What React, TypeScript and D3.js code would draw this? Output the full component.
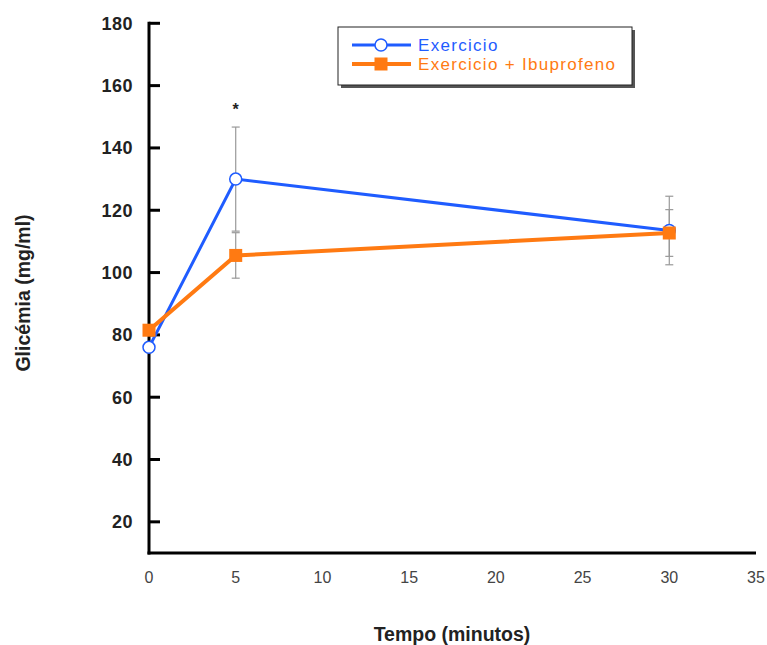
import React from 'react';
import * as d3 from 'd3';

const times = [0, 5, 30];
const exercicio = [76, 130, 113.5];
const exercicioErr = [0, 16.7, 11];
const ibuprofeno = [81.5, 105.5, 112.7];
const ibuprofenoErr = [0, 7.3, 7.5];
const xTicks = [0, 5, 10, 15, 20, 25, 30, 35];
const yTicks = [20, 40, 60, 80, 100, 120, 140, 160, 180];

const W = 767;
const H = 645;
const BLUE = '#1f5cff';
const ORANGE = '#ff7a12';
const FONT = 'Liberation Sans, Arial, sans-serif';

export default function App() {
  const x = d3.scaleLinear().domain([0, 35]).range([149, 756]);
  const y = d3.scaleLinear().domain([10, 180]).range([553, 23.3]);

  const line = d3.line<number>()
    .x((_, i) => x(times[i]))
    .y(d => y(d));

  const errorBars = (vals: number[], errs: number[], key: string) =>
    vals.map((v, i) => {
      if (!errs[i]) return null;
      const cx = x(times[i]);
      const y1 = y(v + errs[i]);
      const y2 = y(v - errs[i]);
      return (
        <g key={key + i} stroke="#999" strokeWidth={1.2}>
          <line x1={cx} x2={cx} y1={y1} y2={y2} />
          <line x1={cx - 4} x2={cx + 4} y1={y1} y2={y1} />
          <line x1={cx - 4} x2={cx + 4} y1={y2} y2={y2} />
        </g>
      );
    });

  return (
    <svg width={W} height={H} style={{ position: 'absolute', left: 0, top: 0, background: '#fff' }}>
      {/* error bars */}
      {errorBars(exercicio, exercicioErr, 'e')}
      {errorBars(ibuprofeno, ibuprofenoErr, 'i')}

      {/* axes */}
      <line x1={x(0)} x2={x(0)} y1={y(180) - 1.5} y2={y(10) + 1.5} stroke="#000" strokeWidth={3} />
      <line x1={x(0) - 1.5} x2={x(35)} y1={y(10)} y2={y(10)} stroke="#000" strokeWidth={3} />
      {yTicks.map(t => (
        <g key={t}>
          <line x1={x(0)} x2={x(0) + 11} y1={y(t)} y2={y(t)} stroke="#000" strokeWidth={3} />
          <text x={x(0) - 16} y={y(t)} dy="0.35em" textAnchor="end" fontFamily={FONT}
            fontWeight="bold" fontSize={18} letterSpacing={0.5} fill="#222">{t}</text>
        </g>
      ))}
      {xTicks.map(t => (
        <text key={t} x={x(t)} y={577.5} dy="0.35em" textAnchor="middle" fontFamily={FONT}
          fontSize={16} fill="#444">{t}</text>
      ))}

      {/* axis titles */}
      <text x={452} y={641} textAnchor="middle" fontFamily={FONT}
        fontWeight="bold" fontSize={19.5} fill="#222">Tempo (minutos)</text>
      <text transform={`translate(23,293) rotate(-90)`} dy="0.35em" textAnchor="middle"
        fontFamily={FONT} fontWeight="bold" fontSize={19.5} fill="#222">Glicémia (mg/ml)</text>

      {/* series */}
      <path d={line(exercicio) ?? ''} fill="none" stroke={BLUE} strokeWidth={3} />
      {exercicio.map((v, i) => (
        <circle key={'c' + i} cx={x(times[i])} cy={y(v)} r={6} fill="#fff" stroke={BLUE} strokeWidth={1.5} />
      ))}
      <path d={line(ibuprofeno) ?? ''} fill="none" stroke={ORANGE} strokeWidth={4} />
      {ibuprofeno.map((v, i) => (
        <rect key={'s' + i} x={x(times[i]) - 6.5} y={y(v) - 6.5} width={13} height={13} fill={ORANGE} />
      ))}

      {/* significance marker */}
      <text x={x(5)} y={115} textAnchor="middle" fontFamily={FONT} fontWeight="bold" fontSize={16} fill="#222">*</text>

      {/* legend */}
      <rect x={341} y={30} width={294} height={58} fill="#555" />
      <rect x={338} y={27} width={294} height={58} fill="#fff" stroke="#222" strokeWidth={1} />
      <line x1={352} x2={411} y1={45} y2={45} stroke={BLUE} strokeWidth={3} />
      <circle cx={381} cy={45} r={6} fill="#fff" stroke={BLUE} strokeWidth={1.5} />
      <text x={418} y={45} dy="0.35em" fontFamily={FONT} fontSize={17} letterSpacing={1.3} fill={BLUE}>Exercicio</text>
      <line x1={352} x2={411} y1={64} y2={64} stroke={ORANGE} strokeWidth={4} />
      <rect x={374.5} y={57.5} width={13} height={13} fill={ORANGE} />
      <text x={418} y={64} dy="0.35em" fontFamily={FONT} fontSize={17} letterSpacing={1.3} fill={ORANGE}>Exercicio + Ibuprofeno</text>
    </svg>
  );
}
